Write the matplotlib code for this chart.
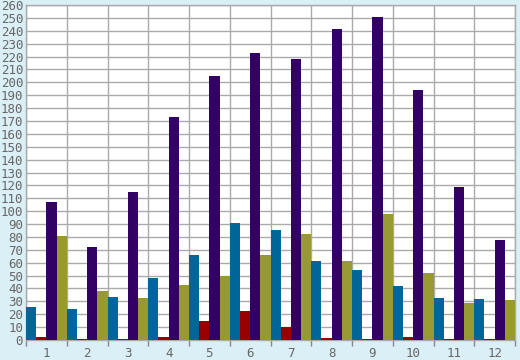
import numpy as np
import matplotlib.pyplot as plt

categorias = [str(i) for i in range(1, 13)]

# cuatro series
serie_azul = [26, 24, 33, 48, 66, 91, 85, 61, 54, 42, 32.5, 31.5]
serie_roja = [2, 0.5, 1, 2.5, 15, 22.5, 10, 1.5, 0.5, 2.5, 0.5, 0.5]
serie_morada = [107, 72, 115, 173, 205, 223, 218, 241, 251, 194, 118.5, 78]
serie_oliva = [81, 38, 32.5, 42.5, 50, 66, 82, 61, 98, 52, 28.5, 31]

series = [serie_azul, serie_roja, serie_morada, serie_oliva]
colores = ["#006699", "#990000", "#330066", "#999933"]

fondo = "#daeff6"
gris = "#aaaaaa"

fig = plt.figure(figsize=(5.2, 3.6), dpi=100, facecolor=fondo)
ax = fig.add_axes([26 / 520, 20 / 360, 489 / 520, 335 / 360])
ax.set_facecolor("white")

x = np.arange(1, len(categorias) + 1)
ancho = 0.25
for k, (valores, color) in enumerate(zip(series, colores)):
    ax.bar(x + (k - 1.5) * ancho, valores, width=ancho, color=color, zorder=3)

ax.set_xlim(0.5, len(categorias) + 0.5)
ax.set_ylim(0, 260)

# lineas de la rejilla
ax.set_yticks(np.arange(0, 261, 10))
ax.set_xticks(np.arange(0.5, len(categorias) + 1, 1))
ax.set_xticklabels([])
ax.set_xticks(x, minor=True)
ax.set_xticklabels(categorias, minor=True)
ax.grid(True, which="major", color=gris, linewidth=1, zorder=0)

ax.tick_params(axis="x", which="major", length=4, width=1, color="#888888", direction="out")
ax.tick_params(axis="x", which="minor", length=0, pad=5, labelsize=9, labelcolor="#666666")
ax.tick_params(axis="y", length=0, pad=2, labelsize=9, labelcolor="#666666")
for lbl in ax.get_xticklabels(minor=True) + ax.get_yticklabels():
    lbl.set_family("DejaVu Sans Mono")

for lado in ["top", "right", "left", "bottom"]:
    ax.spines[lado].set_color(gris)
    ax.spines[lado].set_linewidth(1)

fig.savefig("out.png", dpi=100, facecolor=fondo)
